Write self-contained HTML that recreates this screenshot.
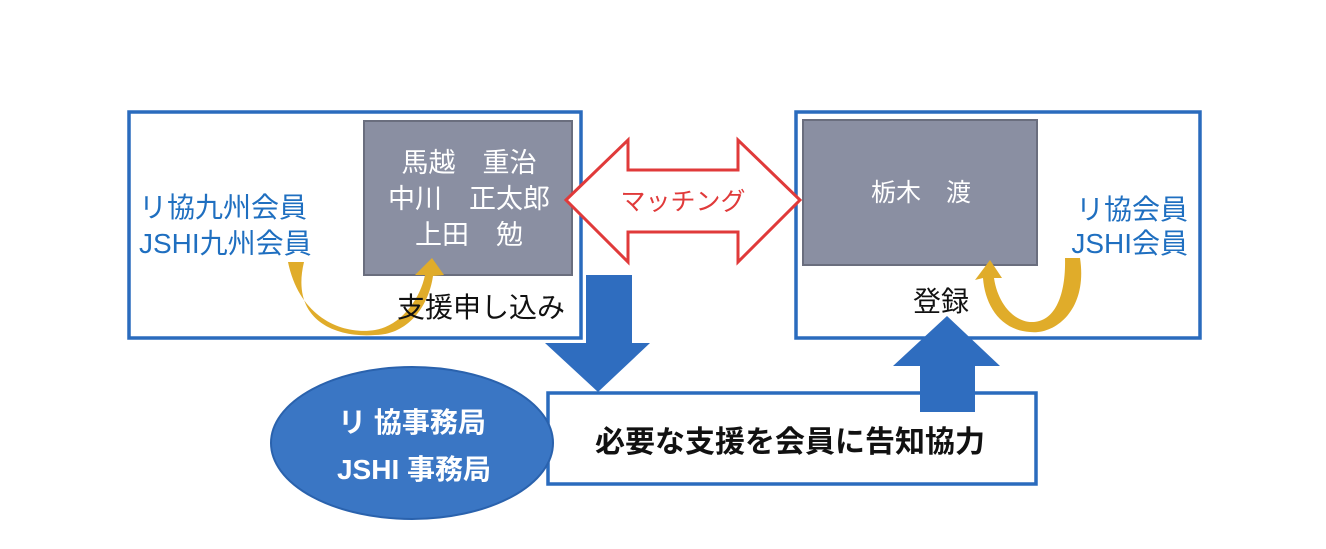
<!DOCTYPE html>
<html><head><meta charset="utf-8"><style>
html,body{margin:0;padding:0;background:#fff;}
svg{display:block}
text{font-family:"Liberation Sans","Noto Sans CJK JP",sans-serif;}
</style></head><body>
<svg width="1326" height="549" viewBox="0 0 1326 549" xmlns="http://www.w3.org/2000/svg">
<rect x="129" y="112" width="452" height="226" fill="#fff" stroke="#2a6bbd" stroke-width="3.5"/>
<rect x="364" y="121" width="208" height="154" fill="#8a8fa2" stroke="#6a6e7e" stroke-width="2"/>
<rect x="796" y="112" width="404" height="226" fill="#fff" stroke="#2a6bbd" stroke-width="3.5"/>
<rect x="803" y="120" width="234" height="145" fill="#8a8fa2" stroke="#6a6e7e" stroke-width="2"/>
<rect x="548" y="393" width="488" height="91" fill="#fff" stroke="#2a6bbd" stroke-width="3.5"/>
<ellipse cx="412" cy="443" rx="141" ry="76" fill="#3a76c4" stroke="#2a62ad" stroke-width="2"/>
<polygon points="586,275 632,275 632,343 650,343 598,392 545,343 586,343" fill="#2f6dbf"/>
<polygon points="920,412 975,412 975,366 1000,366 947,316 893,366 920,366" fill="#2f6dbf"/>
<polygon points="566,200 628,140 628,170 738,170 738,140 800,200 738,262 738,232 628,232 628,262" fill="#fff" stroke="#e03a3a" stroke-width="3"/>
<path d="M288,262 C300,320 345,335 375,330 C400,326 420,300 425,275 L415,275 L432,258 L444,275 L433,276 C428,310 405,335 375,335 C335,338 290,320 304,262 Z" fill="#e0ac2a"/>
<path d="M1080,258 C1088,310 1055,335 1030,332 C1000,330 985,305 983,278 L975,280 L990,260 L1002,278 L994,278 C998,305 1015,322 1032,322 C1055,322 1066,295 1065,258 Z" fill="#e0ac2a"/>
<g fill="#fff" font-size="27" text-anchor="middle">
<text x="469" y="172">馬越　重治</text>
<text x="469" y="208">中川　正太郎</text>
<text x="469" y="244">上田　勉</text>
<text x="921" y="201" font-size="25">栃木　渡</text>
</g>
<text x="683" y="210" fill="#e03a3a" font-size="25" text-anchor="middle">マッチング</text>
<g fill="#1f6fc0" font-size="28">
<text x="139" y="217">リ協九州会員</text>
<text x="139" y="253">JSHI九州会員</text>
<text x="1188" y="219" text-anchor="end">リ協会員</text>
<text x="1188" y="253" text-anchor="end">JSHI会員</text>
</g>
<text x="397" y="317" font-size="28" fill="#111">支援申し込み</text>
<text x="913" y="311" font-size="28" fill="#111">登録</text>
<text x="595" y="452" font-size="30" font-weight="bold" fill="#111">必要な支援を会員に告知協力</text>
<g fill="#fff" font-size="28" font-weight="bold" text-anchor="middle" style="font-family:'Liberation Serif','Noto Serif CJK SC',serif">
<text x="412" y="432">リ 協事務局</text>
<text x="414" y="479">JSHI 事務局</text>
</g>
</svg>
</body></html>
